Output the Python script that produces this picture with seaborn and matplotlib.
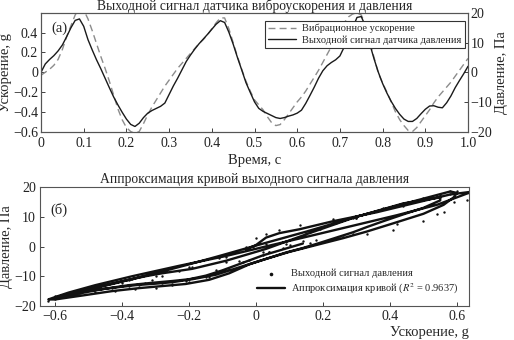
import numpy as np
import pandas as pd
import seaborn as sns
import matplotlib
matplotlib.use("Agg")
import matplotlib.pyplot as plt
from matplotlib.lines import Line2D

time = [round(i * 0.01, 2) for i in range(101)]

acceleration = [
    -0.03, 0.00, 0.03, 0.07, 0.13, 0.23, 0.36, 0.47, 0.58, 0.65,
    0.63, 0.54, 0.42, 0.29, 0.16, 0.04, -0.09, -0.23, -0.37, -0.48,
    -0.56, -0.60, -0.62, -0.60, -0.52, -0.43, -0.35, -0.28, -0.21, -0.14,
    -0.08, -0.02, 0.04, 0.09, 0.14, 0.19, 0.24, 0.29, 0.33, 0.38,
    0.44, 0.50, 0.55, 0.55, 0.44, 0.30, 0.16, 0.03, -0.09, -0.19,
    -0.28, -0.33, -0.38, -0.45, -0.51, -0.54, -0.53, -0.48, -0.42, -0.36,
    -0.30, -0.25, -0.19, -0.12, -0.05, 0.02, 0.10, 0.18, 0.26, 0.33,
    0.41, 0.50, 0.56, 0.59, 0.60, 0.58, 0.48, 0.30, 0.15, -0.01,
    -0.11, -0.20, -0.30, -0.40, -0.48, -0.54, -0.59, -0.60, -0.56, -0.50,
    -0.44, -0.38, -0.31, -0.25, -0.20, -0.15, -0.10, -0.04, 0.02, 0.08,
    0.14,
]

pressure = [
    0.0, 2.8, 4.3, 5.6, 7.2, 9.2, 12.0, 15.0, 17.5, 18.0,
    15.5, 11.0, 7.5, 4.2, 1.2, -2.0, -5.2, -8.3, -11.0, -13.5,
    -15.8, -17.6, -18.3, -17.2, -15.3, -13.8, -12.9, -12.2, -11.5, -10.4,
    -7.5, -4.6, -2.0, 0.8, 3.6, 5.8, 7.8, 9.6, 11.2, 12.8,
    14.5, 16.2, 17.4, 16.8, 13.5, 9.5, 5.0, 0.8, -3.5, -6.8,
    -10.0, -12.2, -13.2, -13.9, -14.6, -15.3, -15.6, -15.3, -14.8, -14.4,
    -13.8, -12.8, -10.5, -7.8, -5.0, -2.0, 0.5, 2.2, 3.3, 4.2,
    5.5, 8.5, 11.5, 15.0, 18.5, 18.8, 15.5, 9.5, 4.5, 0.0,
    -3.8, -7.0, -9.8, -12.2, -14.2, -15.8, -16.6, -16.6, -15.6, -14.0,
    -12.5, -11.4, -11.3, -11.8, -12.0, -10.3, -8.0, -5.2, -2.8, -0.5,
    2.0,
]

fit_pressure = [
    -1.0, 0.5, 3.0, 4.5, 5.8, 8.5, 11.5, 14.5, 17.5, 18.5,
    17.8, 14.0, 10.5, 7.0, 3.5, 0.3, -3.2, -6.5, -10.0, -13.0,
    -15.5, -17.0, -17.8, -17.8, -16.5, -15.0, -14.0, -13.3, -12.6, -11.2,
    -9.0, -6.0, -3.8, -2.0, -0.5, 1.2, 3.0, 4.8, 6.5, 8.5,
    10.8, 13.0, 15.5, 16.5, 14.5, 10.0, 4.5, -0.8, -4.8, -7.5,
    -9.0, -10.0, -11.2, -13.0, -14.5, -15.3, -15.3, -14.6, -13.8, -13.0,
    -12.5, -12.0, -11.0, -9.5, -7.0, -4.5, -1.8, 0.5, 2.8, 5.0,
    7.8, 11.0, 14.0, 16.5, 18.0, 18.5, 15.5, 10.0, 5.0, 0.0,
    -3.2, -6.0, -9.0, -11.8, -14.0, -15.6, -16.8, -17.2, -16.5, -15.2,
    -14.0, -13.0, -12.2, -11.6, -11.0, -9.8, -8.0, -5.5, -3.0, -1.0,
    1.0,
]

top_title = "Выходной сигнал датчика виброускорения и давления"
bottom_title = "Аппроксимация кривой выходного сигнала давления"
acc_label = "Вибрационное ускорение"
press_label = "Выходной сигнал датчика давления"
scatter_label = "Выходной сигнал давления"
fit_label = "Аппроксимация кривой ($R^2$ = 0.9637)"
top_xticks = [0, 0.1, 0.2, 0.3, 0.4, 0.5, 0.6, 0.7, 0.8, 0.9, 1.0]
top_xticklabels = ["0", "0.1", "0.2", "0.3", "0.4", "0.5", "0.6", "0.7", "0.8", "0.9", "1.0"]
left_yticks = [-0.6, -0.4, -0.2, 0, 0.2, 0.4]
left_yticklabels = ["\u22120.6", "\u22120.4", "\u22120.2", "0", "0.2", "0.4"]
right_yticks = [-20, -10, 0, 10, 20]
right_yticklabels = ["\u221220", "\u221210", "0", "10", "20"]
bot_xticks = [-0.6, -0.4, -0.2, 0, 0.2, 0.4, 0.6]
bot_xticklabels = ["\u22120.6", "\u22120.4", "\u22120.2", "0", "0.2", "0.4", "0.6"]

df = pd.DataFrame({"t": time, "acc": acceleration, "p": pressure, "fit": fit_pressure})

# ---- style ----
sns.set_theme(style="white")
plt.rcParams["font.family"] = ["Liberation Serif", "DejaVu Serif"]
plt.rcParams["mathtext.fontset"] = "stix"
plt.rcParams["axes.unicode_minus"] = True

FS = 10.5
TFS = 10
SPINE = "#555555"

fig = plt.figure(figsize=(5.14, 3.4), dpi=100)

# ---------------- top panel ----------------
ax1 = fig.add_axes([0.0798, 0.6132, 0.8307, 0.3486])
ax2 = ax1.twinx()

sns.lineplot(data=df, x="t", y="acc", ax=ax1, color="#8c8c8c", lw=1.0,
             linestyle=(0, (5, 3)), estimator=None)
sns.lineplot(data=df, x="t", y="p", ax=ax2, color="#1a1a1a", lw=1.0,
             estimator=None)

ax1.set_xlim(0, 1)
ax1.set_ylim(-0.6, 0.6)
ax2.set_ylim(-20, 20)
ax1.set_xticks(top_xticks)
ax1.set_xticklabels(top_xticklabels)
ax1.set_yticks(left_yticks)
ax1.set_yticklabels(left_yticklabels)
ax2.set_yticks(right_yticks)
ax2.set_yticklabels(right_yticklabels)

ax1.set_xlabel("Время, с", fontsize=FS, labelpad=3)
ax1.set_ylabel("Ускорение, g", fontsize=FS)
ax1.yaxis.set_label_coords(-0.068, 0.5)
ax2.set_ylabel("Давление, Па", fontsize=FS, labelpad=2)
ax1.set_title(top_title, fontsize=9.8, pad=1.5)

ax1.text(0.025, 0.93, "(а)", transform=ax1.transAxes, fontsize=FS, va="top", ha="left")

for a in (ax1, ax2):
    for s in a.spines.values():
        s.set_color(SPINE)
        s.set_linewidth(0.8)
ax1.tick_params(axis="y", direction="in", length=3, width=0.6, labelsize=TFS,
                pad=2, colors="#222222", left=True, right=False)
ax1.tick_params(axis="x", direction="in", length=3, width=0.6, labelsize=TFS,
                pad=4, colors="#222222", bottom=True, top=False)
ax2.tick_params(axis="y", direction="in", length=3, width=0.6, labelsize=TFS,
                pad=2, colors="#222222", right=True, left=False)

handles = [
    Line2D([], [], color="#8c8c8c", lw=1.0, linestyle=(0, (5, 3))),
    Line2D([], [], color="#1a1a1a", lw=1.0),
]
leg = ax2.legend(handles, [acc_label, press_label], loc="upper right",
                 bbox_to_anchor=(0.992, 0.935), fontsize=7.5, frameon=True,
                 fancybox=False, framealpha=1, edgecolor="#333333",
                 handlelength=2.7, borderpad=0.3, labelspacing=0.2,
                 handletextpad=0.6, borderaxespad=0)
leg.get_frame().set_linewidth(0.8)

# ---------------- bottom panel ----------------
ax3 = fig.add_axes([0.0778, 0.1, 0.8347, 0.35])
sns.scatterplot(data=df, x="acc", y="p", ax=ax3, s=3, color="#111111",
                linewidth=0, label=scatter_label)
sns.lineplot(data=df, x="acc", y="fit", ax=ax3, sort=False, estimator=None,
             color="#111111", lw=1.7, label=fit_label)

ax3.set_xlim(-0.645, 0.636)
ax3.set_ylim(-20, 20)
ax3.set_xticks(bot_xticks)
ax3.set_xticklabels(bot_xticklabels)
ax3.set_yticks(right_yticks)
ax3.set_yticklabels(right_yticklabels)
ax3.set_xlabel("Ускорение, g", fontsize=FS, loc="right", labelpad=2)
ax3.set_ylabel("Давление, Па", fontsize=FS)
ax3.yaxis.set_label_coords(-0.064, 0.5)
ax3.set_title(bottom_title, fontsize=9.8, pad=3)
ax3.text(0.025, 0.87, "(б)", transform=ax3.transAxes, fontsize=FS, va="top", ha="left")

for s in ax3.spines.values():
    s.set_color(SPINE)
    s.set_linewidth(0.8)
ax3.tick_params(axis="both", direction="in", length=3, width=0.6, labelsize=TFS,
                pad=3, colors="#222222", left=True, bottom=True, right=False, top=False)

leg3 = ax3.legend(loc="lower right", bbox_to_anchor=(0.985, 0.05), fontsize=7.5,
                  frameon=False, handlelength=2.7, labelspacing=0.3,
                  handletextpad=0.6, borderaxespad=0, markerscale=1.5)

fig.savefig("out.png", dpi=100)
